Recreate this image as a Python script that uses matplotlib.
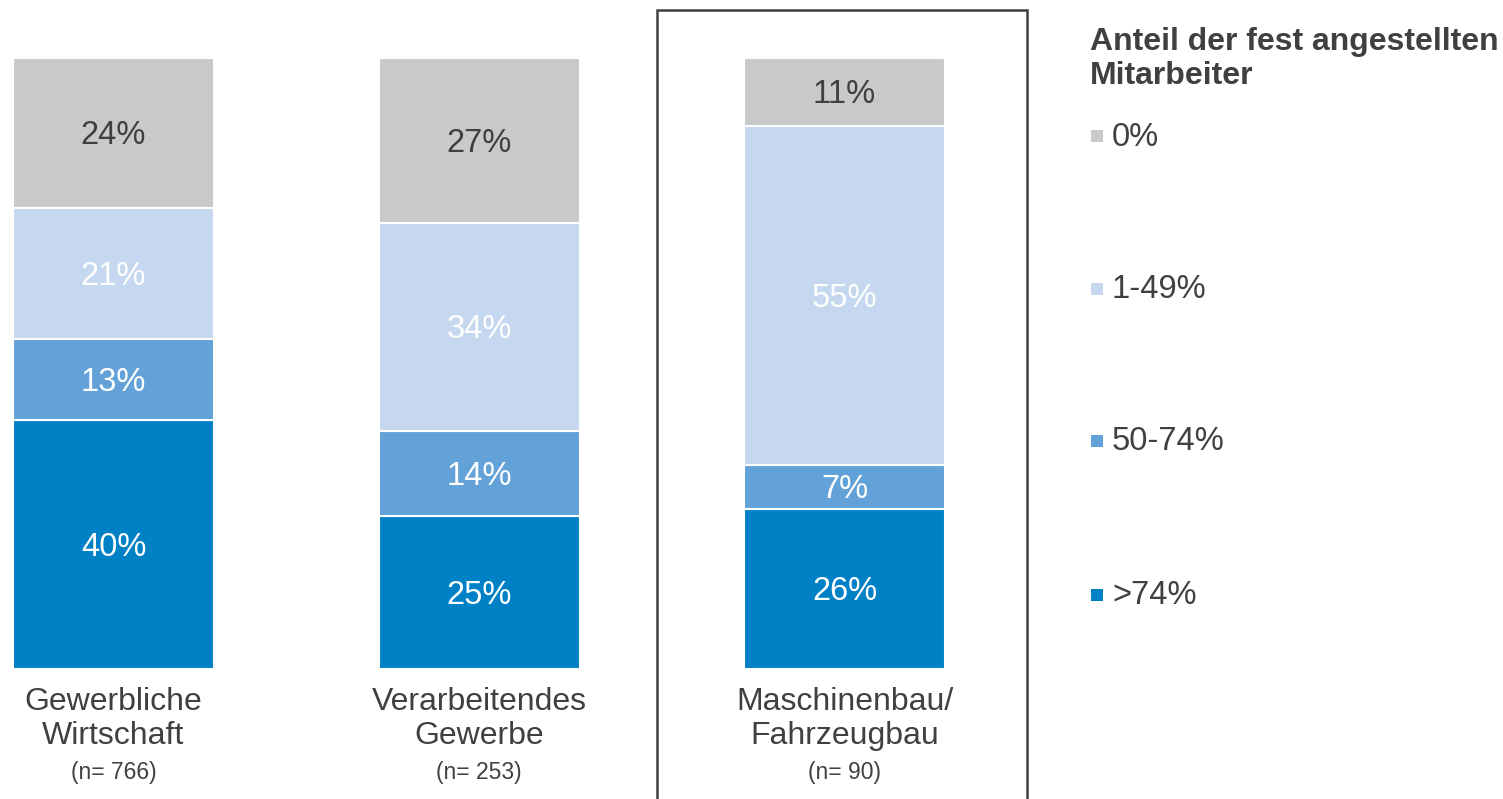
import numpy as np
import matplotlib.pyplot as plt
from matplotlib.patches import Rectangle

plt.rcParams['font.family'] = ['Liberation Sans', 'DejaVu Sans']

# --- data ---
categories = ['Gewerbliche\nWirtschaft', 'Verarbeitendes\nGewerbe', 'Maschinenbau/\nFahrzeugbau']
n_labels = ['(n= 766)', '(n= 253)', '(n= 90)']
series = ['>74%', '50-74%', '1-49%', '0%']  # bottom -> top
values = {
    '>74%':   [40, 25, 26],
    '50-74%': [13, 14, 7],
    '1-49%':  [21, 34, 55],
    '0%':     [24, 27, 11],
}
colors = {'>74%': '#0081C6', '50-74%': '#62A2D8', '1-49%': '#C5D8EF', '0%': '#C8C9CB'}
text_colors = {'>74%': 'white', '50-74%': 'white', '1-49%': 'white', '0%': '#404040'}

W, H = 1503, 799
fig = plt.figure(figsize=(W / 100, H / 100), dpi=100)

# axes placed so that bar centres land at 113.5 / 479 / 844.5 px
step = 365.5
x0 = -113.5 / step
ax = fig.add_axes([0, 130 / H, 1050 / W, 611 / H])
ax.set_xlim(x0, x0 + 1050 / step)
ax.set_ylim(0, 100)
ax.axis('off')

x = np.arange(len(categories))
totals = np.sum([values[s] for s in series], axis=0)
bottom = np.zeros(len(categories))
for s in series:
    v = np.array(values[s], dtype=float)
    h = v / totals * 100
    ax.bar(x, h, bottom=bottom, width=201 / step, color=colors[s],
           edgecolor='white', linewidth=1.5)
    for xi, b, hi, vi in zip(x, bottom, h, v):
        ax.annotate(f'{vi:.0f}%', (xi, b + hi / 2), xytext=(0, -3),
                    textcoords='offset pixels', ha='center', va='center',
                    fontsize=23.5, color=text_colors[s])
    bottom += h

# category labels below bars
for xi, cat, n in zip(x, categories, n_labels):
    ax.text(xi, (669 - 719) / 611 * 100, cat, ha='center', va='center',
            fontsize=23, color='#404040', linespacing=1.16)
    ax.text(xi, (669 - 773) / 611 * 100, n, ha='center', va='center',
            fontsize=16.5, color='#404040')

# highlight box around third category
fig.patches.append(Rectangle((657 / W, -0.05), 370 / W, (H - 10) / H + 0.05,
                             transform=fig.transFigure, fill=False,
                             edgecolor='#404040', linewidth=1.8))

# legend
fig.text(1090 / W, 1 - 59 / H, 'Anteil der fest angestellten\nMitarbeiter',
         ha='left', va='center', fontsize=23, fontweight='bold', color='#404040',
         linespacing=1.2)
leg_y = {'0%': 137, '1-49%': 290, '50-74%': 442, '>74%': 596}
for s in series:
    yc = leg_y[s]
    fig.patches.append(Rectangle((1091 / W, 1 - (yc + 5) / H), 12 / W, 12 / H,
                                 transform=fig.transFigure, facecolor=colors[s],
                                 edgecolor='none'))
    fig.text(1112 / W, 1 - yc / H, s, ha='left', va='center', fontsize=23.5,
             color='#404040')

fig.savefig('out.png', dpi=100)
